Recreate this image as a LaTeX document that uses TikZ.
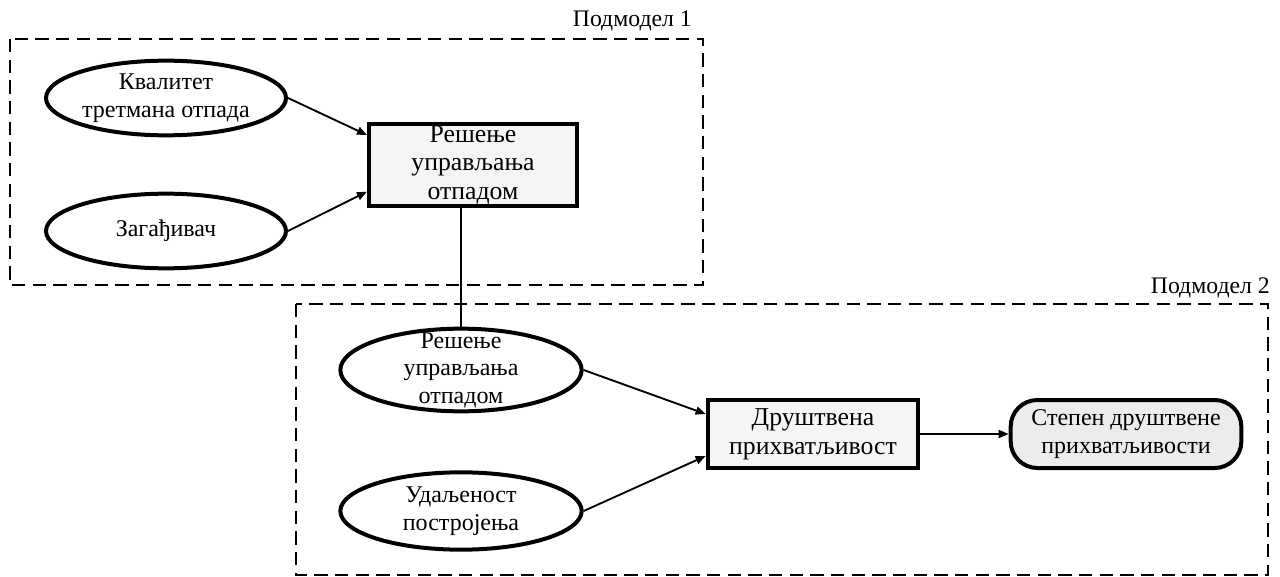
\documentclass[tikz,border=0pt]{standalone}
\usepackage{fontspec}
\setmainfont{Liberation Serif}
\usetikzlibrary{arrows.meta,shapes.geometric}
\begin{document}
\begin{tikzpicture}[x=0.75pt,y=-0.75pt,
  frame/.style={draw, line width=1.8pt, dash pattern=on 10pt off 5.5pt},
  oval/.style={ellipse, draw, line width=3pt, fill=white, inner sep=0pt},
  txt/.style={inner sep=0pt, align=center, font=\fontsize{18}{20.6}\selectfont},
  boxnode/.style={rectangle, draw, line width=3pt, fill=gray!8, inner sep=0pt, align=center, font=\fontsize{19.3}{21.5}\selectfont},
  pill/.style={rectangle, rounded corners=20pt, draw, line width=3pt, fill=gray!15, inner sep=0pt, align=center, font=\fontsize{18}{21}\selectfont},
  conn/.style={line width=1.4pt},
  arr/.style={conn, -{Triangle[length=7.5pt,width=6pt]}},
  lbl/.style={font=\fontsize{17.8}{19}\selectfont, anchor=base east, inner sep=0pt}
]
\useasboundingbox (0,0) rectangle (1280,577);
% frames
\draw[frame] (10,39) rectangle (703,285);
\draw[frame] (296,304) rectangle (1268,575);
\node[lbl] (l1) at (692,27) {Подмодел 1};
\node[lbl] (l2) at (1270,293) {Подмодел 2};
% nodes
\node[oval, minimum width=180pt, minimum height=56pt] (e1) at (166,98) {};
\node[txt] (e1t) at (e1.center) {Квалитет\\третмана отпада};
\node[oval, minimum width=180pt, minimum height=56pt] (e2) at (166,231) {};
\node[txt] (e2t) at (e2.center) {Загађивач};
\node[boxnode, minimum width=156pt, minimum height=62pt] (r1) at (473,165) {Решење\\управљања\\отпадом};
\node[oval, minimum width=181pt, minimum height=62pt] (e3) at (461,370) {};
\node[txt] (e3t) at (e3.center) {Решење\\управљања\\отпадом};
\node[oval, minimum width=181pt, minimum height=58pt] (e4) at (461,511) {};
\node[txt] (e4t) at (e4.center) {Удаљеност\\постројења};
\node[boxnode, minimum width=158pt, minimum height=51pt] (r2) at (813,434) {Друштвена\\прихватљивост};
\node[pill, minimum width=173pt, minimum height=51pt] (s) at (1126,434) {Степен друштвене\\прихватљивости};
% connectors
\draw[arr] (e1.east) -- ([yshift=22.5pt]r1.west);
\draw[arr] (e2.east) -- ([yshift=-20pt]r1.west);
\draw[conn] (e3.north |- r1.south) -- (e3.north);
\draw[arr] (e3.east) -- ([yshift=15pt]r2.west);
\draw[arr] (e4.east) -- ([yshift=-16.5pt]r2.west);
\draw[arr] (r2.east) -- (s.west);
\end{tikzpicture}
\end{document}
